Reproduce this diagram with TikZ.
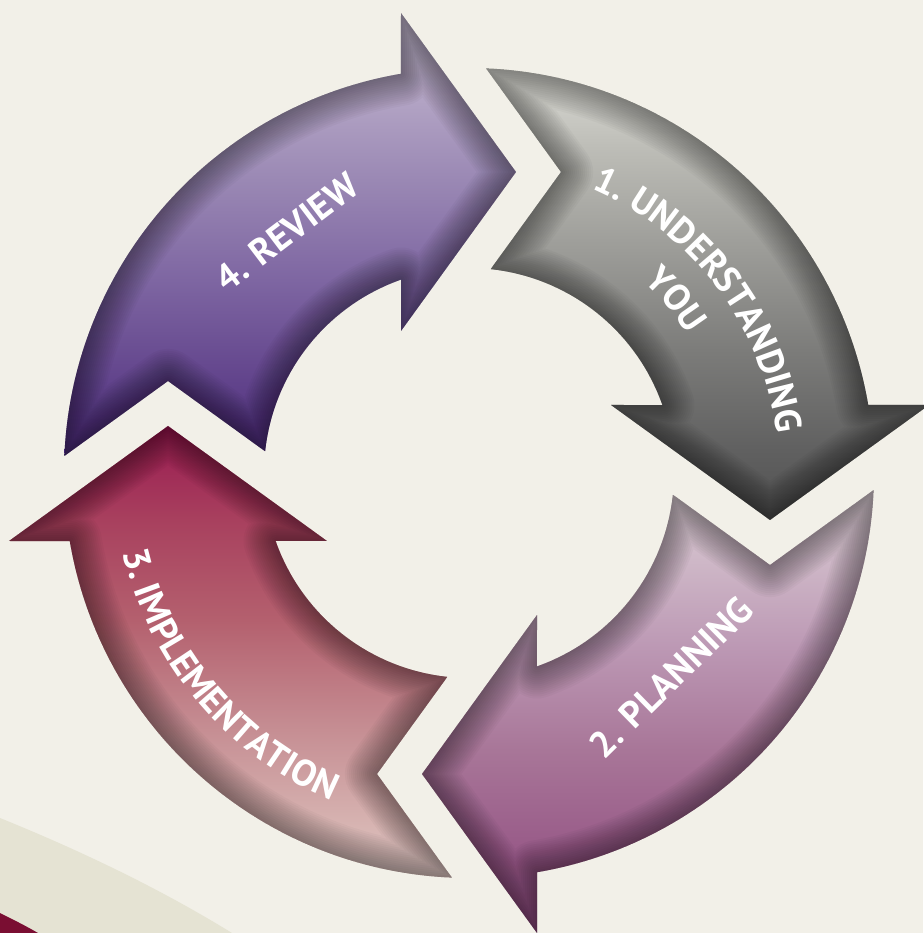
\documentclass[tikz,border=0pt]{standalone}
\usepackage{fontspec}
\setmainfont{PT Sans}
\usetikzlibrary{decorations.text}
\definecolor{bg}{HTML}{F2F0E8}
\definecolor{band}{HTML}{E5E3D3}
\definecolor{darkred}{HTML}{7A0E32}
% gray arrow
\definecolor{ga}{HTML}{505050}\definecolor{gb}{HTML}{606060}\definecolor{gc}{HTML}{7C7C7A}
\definecolor{gd}{HTML}{9C9C98}\definecolor{ge}{HTML}{BCBCB6}\definecolor{gf}{HTML}{DADAD4}
% planning arrow
\definecolor{pa}{HTML}{8A4A7E}\definecolor{pb}{HTML}{985A88}\definecolor{pc}{HTML}{A87698}
\definecolor{pd}{HTML}{BC98B4}\definecolor{pe}{HTML}{CFB9C8}\definecolor{pf}{HTML}{DCD0D6}
% implementation arrow
\definecolor{ra}{HTML}{E0CAC6}\definecolor{rb}{HTML}{D6B2B0}\definecolor{rc}{HTML}{C48A90}
\definecolor{rd}{HTML}{B4606E}\definecolor{re}{HTML}{A8405E}\definecolor{rf}{HTML}{981850}
% review arrow
\definecolor{va}{HTML}{4E2E7C}\definecolor{vb}{HTML}{62448C}\definecolor{vc}{HTML}{7E66A2}
\definecolor{vd}{HTML}{9A88B4}\definecolor{ve}{HTML}{B8AAC8}\definecolor{vf}{HTML}{C4BAD0}
\pgfdeclareverticalshading{shgray}{100bp}{color(0bp)=(ga); color(25bp)=(ga); color(32.9bp)=(gb); color(43.8bp)=(gc); color(54.7bp)=(gd); color(65.5bp)=(ge); color(74.2bp)=(gf); color(100bp)=(gf)}
\pgfdeclareverticalshading{shplan}{100bp}{color(0bp)=(pa); color(25bp)=(pa); color(34.4bp)=(pb); color(45.7bp)=(pc); color(57bp)=(pd); color(67.1bp)=(pe); color(75bp)=(pf); color(100bp)=(pf)}
\pgfdeclareverticalshading{shimpl}{100bp}{color(0bp)=(ra); color(25bp)=(ra); color(31.8bp)=(rb); color(42.7bp)=(rc); color(53.6bp)=(rd); color(64.5bp)=(re); color(75bp)=(rf); color(100bp)=(rf)}
\pgfdeclareverticalshading{shrev}{100bp}{color(0bp)=(va); color(25bp)=(va); color(34bp)=(vb); color(45bp)=(vc); color(56bp)=(vd); color(67bp)=(ve); color(75bp)=(vf); color(100bp)=(vf)}
\def\arrowpath{(87.59:405) arc[start angle=87.59, end angle=9.67, radius=405] -- (460,68) -- (301,-47) -- (142,68) -- (19.37:205) arc[start angle=19.37, end angle=83.93, radius=205] -- (92,301) -- cycle}
\newcommand{\lblfont}{\fontsize{37}{40}\selectfont\bfseries}
\tikzset{
  lbl/.style={text=white, font=\lblfont, inner sep=0pt},
  curved/.style={decorate, decoration={text along path, text align=center, text={|\lblfont\color{white}|#1}}}
}
\newcommand{\cyclearrow}[3]{% rotation, shading, bbox corners
  \begin{scope}
    \clip[rotate=#1] \arrowpath;
    \shade[shading=#2] #3;
    \foreach \w in {64,60,...,4}{
      \draw[rotate=#1, line width=\w pt, black, opacity=0.026, line join=round] \arrowpath;
    }
  \end{scope}
}
\begin{document}
\begin{tikzpicture}[x=1pt,y=1pt]
  \fill[bg] (-469,-460) rectangle (454,473);
  \useasboundingbox (-469,-460) rectangle (454,473);
  % bottom-left bands
  \fill[band] (-469,-345) .. controls (-390,-377) and (-310,-415) .. (-237,-460) -- (-469,-460) -- cycle;
  \fill[darkred] (-469,-440) .. controls (-455,-447) and (-443,-453) .. (-431,-460) -- (-469,-460) -- cycle;
  % arrows
  \cyclearrow{0}{shgray}{(0,-50) rectangle (465,410)}
  \cyclearrow{-90}{shplan}{(-50,-465) rectangle (410,-12)}
  \cyclearrow{180}{shimpl}{(-465,-410) rectangle (-12,50)}
  \cyclearrow{90}{shrev}{(-410,12) rectangle (50,465)}
  % labels
  \path[curved={1. UNDERSTANDING}] (72:310) arc[start angle=72, end angle=2, radius=310];
  \path[curved={YOU}] (62:259) arc[start angle=62, end angle=18, radius=259];
  \path[curved={3. IMPLEMENTATION}] (180:355) arc[start angle=180, end angle=260, radius=355];
  \node[lbl, rotate=44.4] (t2) at (202,-204) {2. PLANNING};
  \node[lbl, rotate=37.2] (t4) at (-182,241) {4. REVIEW};
\end{tikzpicture}
\end{document}
